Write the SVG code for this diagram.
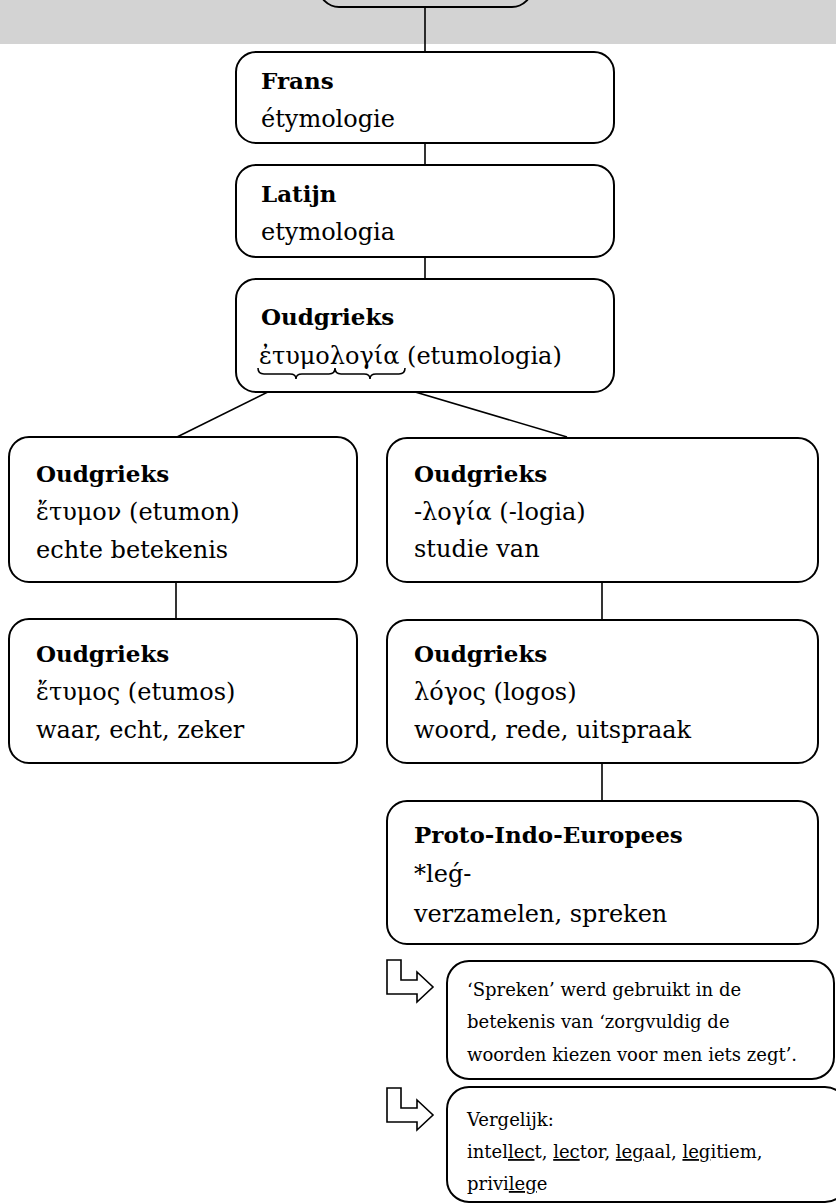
<svg xmlns="http://www.w3.org/2000/svg" width="836" height="1203" viewBox="0 0 836 1203">
<style>
.box{fill:#fff;stroke:#000;stroke-width:2}
.gbox{fill:#d3d3d3;stroke:#000;stroke-width:2}
.t{font-family:"DejaVu Serif","Liberation Serif",serif;font-size:24px;fill:#000}
.b{font-weight:bold;font-size:23px}
.n{font-family:"DejaVu Serif","Liberation Serif",serif;font-size:18px;fill:#000}
.u{text-decoration:underline}
.c{stroke:#000;stroke-width:1.6;fill:none}
.arr{fill:#fff;stroke:#000;stroke-width:1.6;stroke-linejoin:miter}
</style>
<rect x="0" y="0" width="836" height="44" fill="#d3d3d3"/>
<g id="top"><rect class="gbox" x="319" y="-40" width="213" height="47" rx="20"/></g>
<g id="connectors">
<line class="c" x1="425" y1="8" x2="425" y2="52"/>
<line class="c" x1="425" y1="143" x2="425" y2="165"/>
<line class="c" x1="425" y1="257" x2="425" y2="279"/>
<line class="c" x1="296" y1="378" x2="177" y2="437"/>
<line class="c" x1="368" y1="378" x2="567" y2="437"/>
<line class="c" x1="176" y1="582" x2="176" y2="619"/>
<line class="c" x1="602" y1="582" x2="602" y2="620"/>
<line class="c" x1="602" y1="763" x2="602" y2="801"/>
</g>
<g id="frans"><rect class="box" x="236" y="52" width="378" height="91" rx="20"/>
<text class="t b" x="261" y="89">Frans</text><text class="t" x="261" y="127">étymologie</text></g>
<g id="latijn"><rect class="box" x="236" y="165" width="378" height="92" rx="20"/>
<text class="t b" x="261" y="202">Latijn</text><text class="t" x="261" y="240">etymologia</text></g>
<g id="oudgrieks-etymologia"><rect class="box" x="236" y="279" width="378" height="113" rx="20"/>
<text class="t b" x="261" y="325">Oudgrieks</text><text class="t" x="259" y="364">ἐτυμολογία (etumologia)</text>
<path class="c" d="M258,368 q0,6 6,6 H290 q6,0 6,5 q0,-5 6,-5 H329 q6,0 6,-6 q0,6 6,6 H364 q6,0 6,5 q0,-5 6,-5 H399 q6,0 6,-6"/></g>
<g id="etumon"><rect class="box" x="9" y="437" width="348" height="145" rx="20"/>
<text class="t b" x="36" y="482">Oudgrieks</text><text class="t" x="36" y="520">ἔτυμον (etumon)</text><text class="t" x="36" y="558">echte betekenis</text></g>
<g id="etumos"><rect class="box" x="9" y="619" width="348" height="144" rx="20"/>
<text class="t b" x="36" y="662">Oudgrieks</text><text class="t" x="36" y="700">ἔτυμος (etumos)</text><text class="t" x="36" y="738">waar, echt, zeker</text></g>
<g id="logia"><rect class="box" x="387" y="438" width="431" height="144" rx="20"/>
<text class="t b" x="414" y="482">Oudgrieks</text><text class="t" x="414" y="520">-λογία (-logia)</text><text class="t" x="414" y="557">studie van</text></g>
<g id="logos"><rect class="box" x="387" y="620" width="431" height="143" rx="20"/>
<text class="t b" x="414" y="662">Oudgrieks</text><text class="t" x="414" y="700">λόγος (logos)</text><text class="t" x="414" y="738">woord, rede, uitspraak</text></g>
<g id="pie"><rect class="box" x="387" y="801" width="431" height="143" rx="20"/>
<text class="t b" x="414" y="843">Proto-Indo-Europees</text><text class="t" x="414" y="882">*leǵ-</text><text class="t" x="414" y="922">verzamelen, spreken</text></g>
<g id="note1"><path class="arr" d="M387,960 h14 v20 h16 v-8 l16,15 l-16,15 v-8 h-30 z"/>
<rect class="box" x="447" y="961" width="387" height="118" rx="22"/>
<text class="n" x="467" y="996">‘Spreken’ werd gebruikt in de</text>
<text class="n" x="467" y="1028">betekenis van ‘zorgvuldig de</text>
<text class="n" x="467" y="1061">woorden kiezen voor men iets zegt’.</text></g>
<g id="note2"><path class="arr" d="M387,1088 h14 v20 h16 v-8 l16,15 l-16,15 v-8 h-30 z"/>
<rect class="box" x="447" y="1087" width="400" height="115" rx="22"/>
<text class="n" x="467" y="1126">Vergelijk:</text>
<text class="n" x="467" y="1158">intel<tspan class="u">lec</tspan>t, <tspan class="u">lec</tspan>tor, <tspan class="u">leg</tspan>aal, <tspan class="u">leg</tspan>itiem,</text>
<text class="n" x="467" y="1190">privi<tspan class="u">leg</tspan>e</text></g>
</svg>
